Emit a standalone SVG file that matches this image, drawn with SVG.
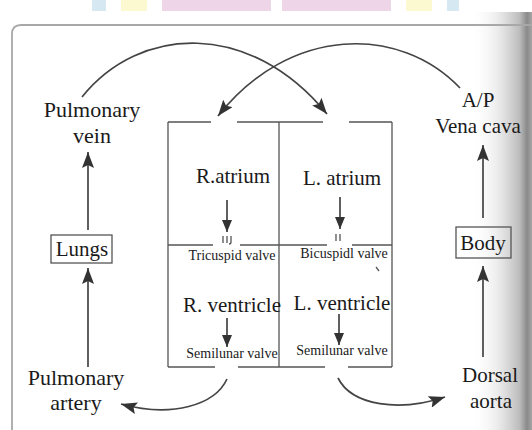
<svg xmlns="http://www.w3.org/2000/svg" width="532" height="430" viewBox="0 0 532 430" font-family="'Liberation Serif', 'DejaVu Serif', serif">
<style>
  .t{font-family:'Liberation Serif','DejaVu Serif',serif;fill:#1a1a1a;text-anchor:middle}
  .big{font-size:21px}
  .sm{font-size:14px}
  .ln{fill:none;stroke:#444;stroke-width:1.7}
  .box{fill:none;stroke:#555;stroke-width:1.3}
  .frame{fill:none;stroke:#a8a8a8;stroke-width:1.8}
</style>
<defs>
  <marker id="ah" markerUnits="userSpaceOnUse" markerWidth="16" markerHeight="12" refX="16" refY="6" orient="auto">
    <path d="M0,0 L16,6 L0,12 L3,6 z" fill="#333"/>
  </marker>
  <marker id="ahs" markerUnits="userSpaceOnUse" markerWidth="12" markerHeight="10" refX="12" refY="5" orient="auto">
    <path d="M0,0 L12,5 L0,10 z" fill="#333"/>
  </marker>
  <linearGradient id="shadow" x1="0" y1="0" x2="1" y2="0">
    <stop offset="0" stop-color="#ffffff" stop-opacity="0"/>
    <stop offset="0.45" stop-color="#e6e6e6" stop-opacity="0.8"/>
    <stop offset="0.8" stop-color="#bcbcbc"/>
    <stop offset="0.92" stop-color="#8a8a8a"/>
    <stop offset="1" stop-color="#a5a5a5"/>
  </linearGradient>
</defs>
<rect width="532" height="430" fill="#ffffff"/>
<g id="bars">
  <rect x="92" y="0" width="14" height="11" fill="#d6e8f1"/>
  <rect x="121" y="0" width="26" height="11" fill="#fcf8cf"/>
  <rect x="162" y="0" width="109" height="11" fill="#eed5e8"/>
  <rect x="282" y="0" width="109" height="11" fill="#eed5e8"/>
  <rect x="406" y="0" width="26" height="11" fill="#fcf8cf"/>
  <rect x="447" y="0" width="12" height="11" fill="#d6e8f1"/>
</g>
<rect x="470" y="12" width="62" height="418" fill="url(#shadow)"/>
<path class="frame" d="M12,430 V34 Q12,25 21,25 H532"/>

<g id="connectors">
  <path class="ln" d="M82,97 C140,25 250,20 327,114" marker-end="url(#ah)"/>
  <path class="ln" d="M460,88 C400,25 290,25 218,116" marker-end="url(#ah)"/>
  <line class="ln" x1="88" y1="230" x2="88" y2="152" marker-end="url(#ah)"/>
  <line class="ln" x1="88" y1="367" x2="88" y2="268" marker-end="url(#ah)"/>
  <line class="ln" x1="483" y1="218" x2="483" y2="145" marker-end="url(#ah)"/>
  <line class="ln" x1="483" y1="357" x2="483" y2="266" marker-end="url(#ah)"/>
  <path class="ln" d="M227,379 C215,405 172,418 121,404" marker-end="url(#ah)"/>
  <path class="ln" d="M338,378 C352,406 400,412 445,397" marker-end="url(#ah)"/>
  <line class="ln" x1="227" y1="200" x2="227" y2="232" marker-end="url(#ahs)"/>
  <line class="ln" x1="340" y1="197" x2="340" y2="229" marker-end="url(#ahs)"/>
  <line class="ln" x1="227" y1="318" x2="227" y2="347" marker-end="url(#ahs)"/>
  <line class="ln" x1="339" y1="314" x2="339" y2="345" marker-end="url(#ahs)"/>
</g>

<g id="heart">
  <path class="box" d="M168,122 H211 M237,122 H323 M349,122 H392"/>
  <path class="box" d="M168,122 V367 M279,122 V367 M392,122 V367"/>
  <path class="box" d="M168,245 H213 M240,245 H327 M352,245 H392"/>
  <path class="box" d="M168,367 H215 M238,367 H325 M348,367 H392"/>
  <path class="box" d="M223,236 V243 M227,236 V243 M231,236 V242 Q231,244 229,244 M336,234 V241 M340,234 V241"/>
  <path class="box" d="M376,267 L379,271"/>
  <g id="r-atrium"><text class="t big" x="233" y="183">R.atrium</text></g>
  <g id="l-atrium"><text class="t big" x="342" y="185">L. atrium</text></g>
  <text class="t sm" x="232" y="260">Tricuspid valve</text>
  <text class="t sm" x="344" y="258">Bicuspidl valve</text>
  <g id="r-ventricle"><text class="t big" x="232" y="312">R. ventricle</text></g>
  <g id="l-ventricle"><text class="t big" x="342" y="310">L. ventricle</text></g>
  <text class="t sm" x="232" y="358">Semilunar valve</text>
  <text class="t sm" x="342" y="355">Semilunar valve</text>
</g>

<g id="pulmonary-vein">
  <text class="t big" style="font-size:22px" x="92" y="117">Pulmonary</text>
  <text class="t big" style="font-size:22px" x="92" y="143">vein</text>
</g>
<g id="lungs">
  <rect class="box" x="51" y="235" width="61" height="28"/>
  <text class="t big" x="82" y="256">Lungs</text>
</g>
<g id="pulmonary-artery">
  <text class="t big" style="font-size:22px" x="76" y="385">Pulmonary</text>
  <text class="t big" style="font-size:22px" x="76" y="410">artery</text>
</g>
<g id="vena-cava">
  <text class="t big" x="478" y="107">A/P</text>
  <text class="t big" x="478" y="133">Vena cava</text>
</g>
<g id="body">
  <rect class="box" x="456" y="227" width="55" height="31"/>
  <text class="t big" x="483" y="250">Body</text>
</g>
<g id="dorsal-aorta">
  <text class="t big" x="490" y="382">Dorsal</text>
  <text class="t big" x="491" y="408">aorta</text>
</g>
</svg>
